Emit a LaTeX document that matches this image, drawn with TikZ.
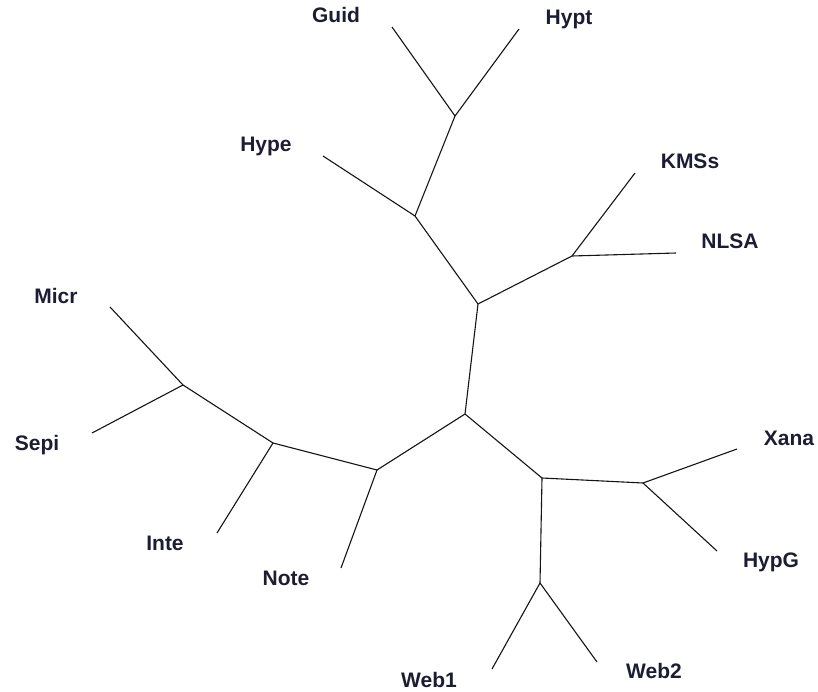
\documentclass[tikz,border=0pt]{standalone}
\usepackage{fontspec}
\setmainfont{Liberation Sans}
\usetikzlibrary{positioning}
\definecolor{treeink}{RGB}{20,20,20}
\definecolor{leafink}{RGB}{28,28,52}

\begin{document}
\begin{tikzpicture}[x=1pt,y=-1pt,
    every node/.style={font=\bfseries\fontsize{21}{25}\selectfont,text=leafink,anchor=base,inner sep=0pt},
    branch/.style={draw=treeink,line width=1.1pt}]
      \useasboundingbox (0,0) rectangle (818,692);
      \coordinate (nA) at (465,414);
      \coordinate (nB) at (478,304);
      \coordinate (nC) at (415,216);
      \coordinate (nD) at (455,116);
      \coordinate (nE) at (572,256);
      \coordinate (nF) at (377,470);
      \coordinate (nG) at (273,443);
      \coordinate (nH) at (183,385);
      \coordinate (nI) at (542,478);
      \coordinate (nJ) at (643,483);
      \coordinate (nK) at (540,583);
      \coordinate (guid) at (392,27);
      \coordinate (hypt) at (519,29);
      \coordinate (hype) at (323,156);
      \coordinate (kmss) at (635,173);
      \coordinate (nlsa) at (676,253);
      \coordinate (micr) at (110,307);
      \coordinate (sepi) at (92,433);
      \coordinate (inte) at (217,533);
      \coordinate (note) at (341,568);
      \coordinate (xana) at (737,449);
      \coordinate (hypg) at (717,551);
      \coordinate (web1) at (492,669);
      \coordinate (web2) at (597,662);
      \node (lguid) at (336,23) {Guid};
      \node (lhypt) at (569,25) {Hypt};
      \node (lhype) at (266,152) {Hype};
      \node (lkmss) at (690,169) {KMSs};
      \node (lnlsa) at (730,249) {NLSA};
      \node (lmicr) at (56,303) {Micr};
      \node (lsepi) at (37,450) {Sepi};
      \node (linte) at (165,550) {Inte};
      \node (lnote) at (286,585) {Note};
      \node (lxana) at (789,445) {Xana};
      \node (lhypg) at (771,567) {HypG};
      \node (lweb1) at (429,687) {Web1};
      \node (lweb2) at (654,678) {Web2};
      \draw[branch] (nA)--(nB);
      \draw[branch] (nB)--(nC);
      \draw[branch] (nC)--(nD);
      \draw[branch] (nD)--(guid);
      \draw[branch] (nD)--(hypt);
      \draw[branch] (nC)--(hype);
      \draw[branch] (nB)--(nE);
      \draw[branch] (nE)--(kmss);
      \draw[branch] (nE)--(nlsa);
      \draw[branch] (nA)--(nF);
      \draw[branch] (nF)--(nG);
      \draw[branch] (nG)--(nH);
      \draw[branch] (nH)--(micr);
      \draw[branch] (nH)--(sepi);
      \draw[branch] (nG)--(inte);
      \draw[branch] (nF)--(note);
      \draw[branch] (nA)--(nI);
      \draw[branch] (nI)--(nJ);
      \draw[branch] (nJ)--(xana);
      \draw[branch] (nJ)--(hypg);
      \draw[branch] (nI)--(nK);
      \draw[branch] (nK)--(web1);
      \draw[branch] (nK)--(web2);
    \end{tikzpicture}
\end{document}
